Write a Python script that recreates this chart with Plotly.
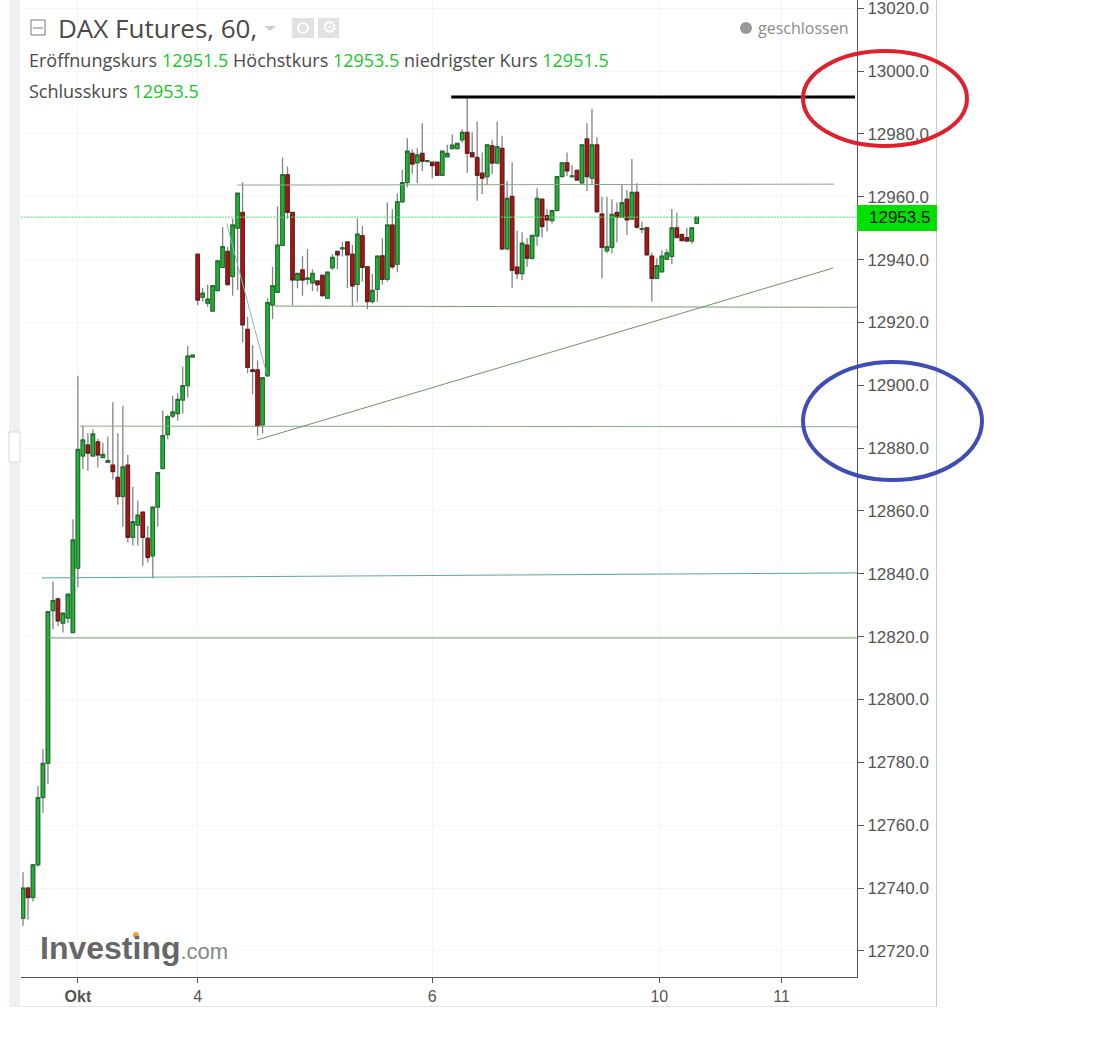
import plotly.graph_objects as go

# Hourly DAX futures candles
open_prices = [12730.4,12740,12737,12747.4,12768.8,12779.7,12828.3,12832,12824.3,12825.9,12821.3,12841.8,12877.5,12881,12877.5,12882,12877,12875.5,12874.6,12870.7,
    12864.6,12874.6,12851.6,12855.5,12859.6,12851.3,12845.7,12861.2,12873.5,12884.3,12890.2,12891,12895.3,12899.9,12909,12941.7,12928,12926.1,12923.6,12930.1,
    12937.5,12942.6,12934.6,12950,12955,12917.8,12904.9,12904.9,12887.4,12903,12925.5,12929.6,12944.5,12967,12955,12933.5,12936.7,12933.7,12932.6,12933.2,
    12935,12927.7,12937.4,12942.6,12943.4,12945.6,12941.7,12932.1,12947.6,12937.7,12926.6,12930.5,12941.2,12933.7,12951,12938.5,12958.4,12964.5,12973.8,12970.8,
    12973.8,12971.2,12971,12971,12966.8,12972.7,12975.3,12975.3,12978.1,12980.5,12974,12972.5,12967.5,12966.4,12976.2,12970.7,12975.4,12943.4,12960.1,12937.6,
    12935.5,12944.6,12940.4,12947.5,12959.2,12954,12952.4,12955.6,12966.4,12970.8,12966.4,12968.4,12964.4,12978.4,12965.9,12976.5,12954.5,12942.8,12943.9,12955,
    12953.5,12959.2,12952.9,12961.4,12949.6,12950.1,12941.1,12934,12936.1,12940.1,12941,12950.1,12948,12947,12945.9,12951.5]
high_prices = [12745,12740.5,12747.5,12772.5,12784.3,12828,12837.5,12832.5,12827.5,12833.5,12857.4,12903,12887,12884.7,12886,12883,12881.7,12883.7,12894.6,12884.7,
    12893.5,12877.8,12867.7,12863.3,12860,12855.2,12861.5,12872.5,12892,12890.5,12896.6,12897.5,12906,12912.5,12909.6,12941.7,12930.9,12932,12931.7,12939.6,
    12950.3,12944,12953,12961.1,12964.6,12921.8,12912.8,12908,12902.4,12927.7,12937.7,12957,12972.5,12969.6,12955,12935.6,12941.2,12943.4,12936.9,12933.2,
    12935,12936,12941.8,12942.6,12945.7,12945.6,12944.6,12953.1,12950.7,12937.7,12935.4,12941.1,12946.8,12958.2,12956,12961,12968.5,12978.6,12975,12975.4,
    12983.4,12971.5,12971,12971,12974.5,12976.5,12979.9,12977,12981.5,12991.3,12980.5,12983.9,12974.1,12976.5,12978,12983.9,12979.4,12965,12971,12949.2,
    12948.7,12946.8,12947.7,12962.7,12959.2,12956.1,12955.6,12966.4,12970.8,12974.1,12970,12968.4,12976.5,12983.4,12988,12978.9,12960,12960,12959.2,12958.2,
    12964,12962.1,12972,12964.3,12952.1,12950.1,12942.2,12940.4,12943,12943.3,12956.1,12955,12948,12950.1,12950.1,12953.5]
low_prices = [12728,12730,12735.7,12746.8,12764,12773,12822.4,12823.4,12821.3,12824.3,12821.3,12835.7,12873.3,12872.8,12877.5,12873.8,12877,12875.5,12870,12862,
    12855,12850,12849,12849,12842.5,12843.6,12838.6,12855,12873.5,12882.8,12889.5,12888.7,12891,12896,12909,12925.5,12926.6,12925,12923.6,12930,
    12937.5,12932,12928.5,12930.3,12913.6,12903.8,12897.2,12883.9,12884.7,12902.7,12921,12929.6,12944.5,12953,12925.5,12930.9,12928.5,12932,12930,12929.8,
    12928.2,12927.7,12936.7,12936.9,12941,12930.9,12925.2,12926.6,12933,12924.2,12926,12926.6,12932,12933,12937,12936,12958,12962.9,12967.3,12964.3,
    12968.2,12971.2,12965.9,12966.8,12966.8,12972.5,12975,12975,12977.2,12967.6,12972.7,12958.7,12960.9,12963.7,12967.2,12970.7,12943,12943,12931,12933.8,
    12933.4,12937.7,12940,12944.4,12947,12948.9,12951.5,12955.6,12966.4,12966.6,12966,12965.3,12964,12961.8,12963.7,12955,12934,12942,12941.9,12945.4,
    12953.5,12947.8,12952.9,12949.8,12948.4,12941.5,12926.6,12934,12936,12940,12938.5,12947,12946,12945.9,12945,12951.5]
close_prices = [12740,12737,12747.4,12768.8,12779.7,12828,12831.5,12825,12827.5,12833.5,12850.8,12879.6,12882.6,12878.4,12884.5,12877.8,12878,12876,12872.5,12864.6,
    12874,12851.6,12856.6,12858.7,12851.6,12845.2,12861.2,12872.2,12884,12890,12891.5,12895.5,12899.9,12909.3,12909.6,12927.1,12929.3,12927.4,12931.7,12939.6,
    12944.1,12932,12951,12961.1,12919.2,12905.7,12904.4,12887,12902.4,12926.3,12931.7,12944.6,12967,12955,12933.5,12935.6,12933.5,12934.1,12935.6,12932,
    12928.5,12936,12940.7,12941.5,12943.7,12941.5,12931.6,12948.1,12937.5,12926.6,12930.2,12941.1,12933.7,12951,12937.7,12958.4,12964.5,12974.5,12970.4,12973.3,
    12971.3,12971.5,12969.9,12966.8,12974.5,12973.8,12976.4,12977,12980.5,12973.8,12972.7,12966.8,12965.9,12976.5,12970.7,12975.9,12943.4,12959.5,12936.6,12935.5,
    12945.2,12940.4,12947.7,12959.5,12950.5,12952.6,12955.6,12966.4,12970.8,12968.2,12966.6,12965.3,12976.5,12966.4,12976.5,12955.2,12943.9,12944.1,12954.4,12953.5,
    12958.1,12952.6,12961.4,12950.3,12949.8,12941.5,12934,12938.1,12941.1,12942.1,12950.1,12947,12946,12945.9,12950.1,12953.5]
candle_x = list(range(len(open_prices)))

# Hand drawn lines on the chart: (x from, x to, price from, price to, colour, width)
drawn_lines = [
    (42.9, 162.5, 12963.7, 12964.0, '#8aa987', 1),
    (50.5, 167.1, 12925.2, 12924.8, '#789a72', 1),
    (11.4, 167.1, 12887.0, 12886.8, '#8aa987', 1),
    (46.9, 162.3, 12882.6, 12937.3, '#6d9465', 1),
    (3.8, 167.1, 12838.7, 12840.3, '#62a59c', 1),
    (4.8, 167.1, 12819.6, 12819.6, '#789a72', 1),
    (40.8, 48.8, 12951.5, 12903.8, '#7fbdb3', 1),
    (85.8, 166.7, 12991.7, 12991.7, '#000000', 3),
]

last_price = 12953.5
y_ticks = list(range(12720, 13021, 20))
x_ticks = [11, 35, 82, 127.5, 152]
x_labels = ['<b>Okt</b>', '4', '6', '10', '11']

GREEN_TXT = '#19c42c'
DARK_TXT = '#4a4a4a'


def px(x):
    return (x - 21) / 836


def py(y):
    return (977 - y) / 977


def box(x0, y0, x1, y1, **kw):
    return dict(type='rect', xref='paper', yref='paper', x0=px(x0), x1=px(x1), y0=py(y0), y1=py(y1), **kw)


def label(x, y, text, size, color=DARK_TXT, family='Open Sans', xanchor='left'):
    return dict(xref='paper', yref='paper', x=px(x), y=py(y), text=text, showarrow=False, xanchor=xanchor, yanchor='middle',
                font=dict(size=size, color=color, family=family))


def green(v):
    return f'<span style="color:{GREEN_TXT}">{v}</span>'


fig = go.Figure()

# wicks first, then the bodies on top so the outline can differ from the wick colour
fig.add_trace(go.Candlestick(x=candle_x, open=open_prices, high=high_prices, low=low_prices, close=close_prices, whiskerwidth=0,
                             increasing=dict(line=dict(color='#858585', width=1.3), fillcolor='rgba(0,0,0,0)'),
                             decreasing=dict(line=dict(color='#858585', width=1.3), fillcolor='rgba(0,0,0,0)')))
body_top = [max(o, c) for o, c in zip(open_prices, close_prices)]
body_low = [min(o, c) for o, c in zip(open_prices, close_prices)]
fig.add_trace(go.Candlestick(x=candle_x, open=open_prices, high=body_top, low=body_low, close=close_prices, whiskerwidth=0,
                             increasing=dict(line=dict(color='#1c6b2c', width=1), fillcolor='#1fb432'),
                             decreasing=dict(line=dict(color='#5e1c1c', width=1), fillcolor='#b01212')))

for x0, x1, y0, y1, color, width in drawn_lines:
    fig.add_trace(go.Scatter(x=[x0, x1], y=[y0, y1], mode='lines', line=dict(color=color, width=width)))

fig.add_trace(go.Scatter(x=[-0.4, 167.1], y=[last_price, last_price], mode='lines', line=dict(color='#5fe56a', width=1, dash='2px,1px')))

shapes = [
    # page frame
    box(9, 0, 20, 1007, fillcolor='#eef0f3', line_width=0, layer='below'),
    box(9, 432, 20, 462, fillcolor='#ffffff', line=dict(color='#d8d8d8', width=1)),
    box(21, 1006, 937, 1007, fillcolor='#e4e6e9', line_width=0),
    box(936, 0, 937, 1007, fillcolor='#c9cbcf', line_width=0),
    # price tag
    box(857, 205, 937, 231, fillcolor='#00e000', line_width=0),
    # header icons
    box(31, 20, 45, 35, fillcolor='#ffffff', line=dict(color='#777777', width=1)),
    dict(type='line', xref='paper', yref='paper', x0=px(33), x1=px(43), y0=py(28), y1=py(28), line=dict(color='#777777', width=1)),
    dict(type='path', xref='paper', yref='paper', fillcolor='#cccccc', line_width=0,
         path=f'M {px(264)} {py(26)} L {px(276)} {py(26)} L {px(270)} {py(31)} Z'),
    box(292, 18, 314, 38, fillcolor='#e2e2e2', line_width=0),
    box(318, 18, 339, 38, fillcolor='#e2e2e2', line_width=0),
    dict(type='circle', xref='paper', yref='paper', x0=px(298), x1=px(308), y0=py(23), y1=py(33), line=dict(color='#ffffff', width=2)),
    dict(type='circle', xref='paper', yref='paper', x0=px(740), x1=px(752), y0=py(22), y1=py(34), fillcolor='#999999', line_width=0),
    # logo accent
    dict(type='circle', xref='paper', yref='paper', x0=px(133), x1=px(139), y0=py(932), y1=py(938), fillcolor='#f0a040', line_width=0),
    # marker ellipses
    dict(type='circle', xref='paper', yref='paper', x0=px(803), x1=px(967), y0=py(51), y1=py(146), line=dict(color='#e0202c', width=4)),
    dict(type='circle', xref='paper', yref='paper', x0=px(803), x1=px(982), y0=py(362), y1=py(480), line=dict(color='#3f4db5', width=4)),
]

annotations = [
    label(56, 28, 'DAX Futures, 60,', 26),
    label(27, 60, f'Eröffnungskurs {green("12951.5")} Höchstkurs {green("12953.5")} niedrigster Kurs {green("12951.5")}', 18),
    label(27, 91, f'Schlusskurs {green("12953.5")}', 18),
    label(850, 28, 'geschlossen', 16, '#8c8c8c', xanchor='right'),
    label(329, 27, '⚙', 17, '#ffffff', 'DejaVu Sans', xanchor='center'),
    label(38, 948, '<b>Investing</b><span style="font-size:22px;color:#888888">.com</span>', 32, '#666666', 'Liberation Sans'),
    dict(xref='paper', yref='y', x=px(867), y=last_price, text=f'{last_price:.1f}', showarrow=False, xanchor='left',
         font=dict(size=17, color='#111111', family='Liberation Sans')),
]

fig.update_layout(
    width=1099, height=1042,
    margin=dict(l=21, r=242, t=0, b=65),
    paper_bgcolor='white', plot_bgcolor='white',
    showlegend=False,
    boxgap=0,
    shapes=shapes,
    annotations=annotations,
)
fig.update_xaxes(range=[-0.4, 167.1], tickvals=x_ticks, ticktext=x_labels, ticks='outside', ticklen=5, tickcolor='#555555',
                 showline=True, linecolor='#555555', linewidth=1, gridcolor='#f6f6f6', zeroline=False,
                 rangeslider_visible=False, tickfont=dict(size=16, color='#555555', family='Liberation Sans'))
fig.update_yaxes(range=[12711.7, 13022.6], side='right', tickvals=y_ticks, tickformat='.1f', ticks='outside', ticklen=6, tickcolor='#555555',
                 showline=True, linecolor='#555555', linewidth=1, gridcolor='#f6f6f6', zeroline=False, ticklabeloverflow='allow',
                 tickfont=dict(size=17, color='#555555', family='Liberation Sans'))

fig.write_html("out.html", config=dict(displayModeBar=False), post_script="document.body.style.margin='0';")
